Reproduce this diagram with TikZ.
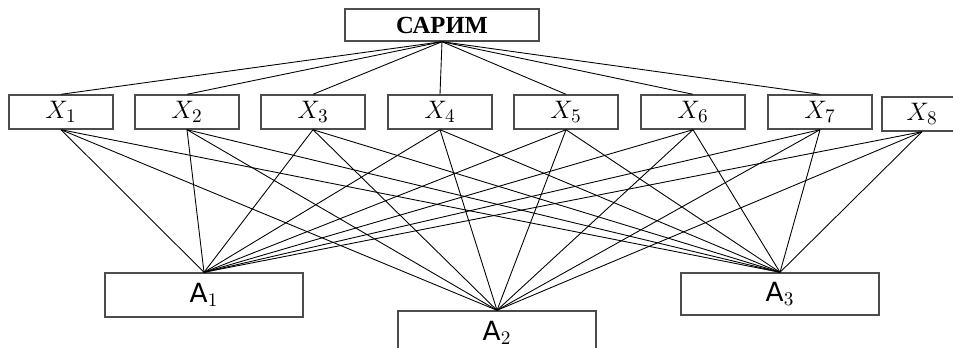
\documentclass[tikz,border=0pt]{standalone}
\usepackage{fontspec}
\setmainfont{Liberation Serif}
\newfontfamily\afont{DejaVu Sans}
\begin{document}
\begin{tikzpicture}[x=0.02cm,y=-0.02cm,
    box/.style={draw=black!70,line width=0.8pt,inner sep=0pt},
    xbox/.style={box,minimum width=2.08cm,minimum height=0.68cm,font=\fontsize{15}{17}\selectfont},
    abox/.style={box,minimum width=3.96cm,minimum height=0.88cm,font=\fontsize{15}{17}\selectfont},
    link/.style={-,black,line width=0.5pt}]
    \useasboundingbox (0,0) rectangle (953,348);
    \node[box,minimum width=3.88cm,minimum height=0.64cm,font=\fontsize{14}{16}\selectfont](0) at (442,25) {\textbf{САРИМ}};
    \foreach \i/\x in {1/61,2/187,3/313,4/440,5/566,6/693,7/820}
        \node[xbox](x\i) at (\x,112) {$X_{\i}$};
    \node[xbox,minimum width=1.6cm](x8) at (922,114) {$X_{8}$};
    \node[abox](a1) at (204,295) {{\afont A}$_1$};
    \node[abox](a2) at (497,333) {{\afont A}$_2$};
    \node[abox,minimum height=0.84cm](a3) at (780,294) {{\afont A}$_3$};
    \foreach \i in {1,...,7}
        \draw [link] (0.south) -- (x\i.north);
    \foreach \i in {1,...,8}
        \foreach \j in {1,2,3}
            \draw [link] (x\i.south) -- (a\j.north);
\end{tikzpicture}
\end{document}
